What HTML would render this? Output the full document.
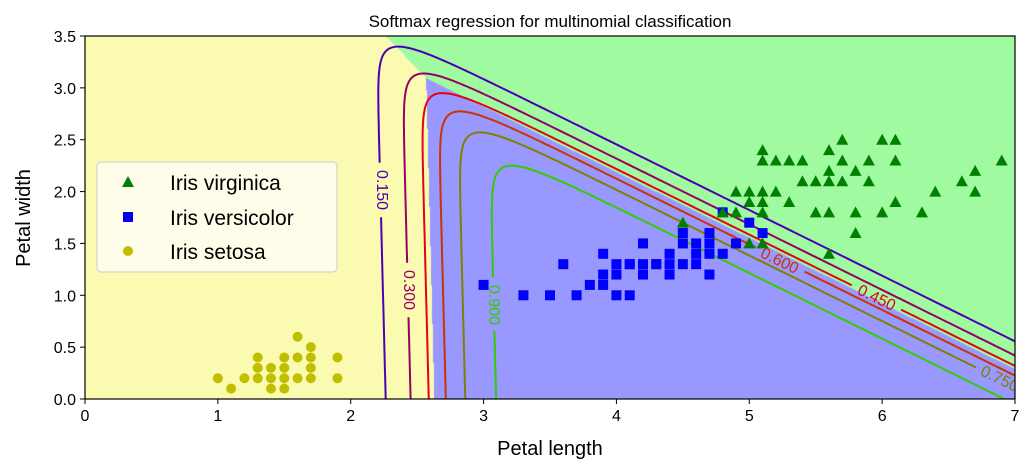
<!DOCTYPE html>
<html><head><meta charset="utf-8">
<style>
body{margin:0;background:#fff;width:1033px;height:471px;overflow:hidden;font-family:"Liberation Sans","DejaVu Sans",sans-serif;}
#wrap{position:relative;width:1033px;height:471px;}
canvas{position:absolute;left:85px;top:36px;}
svg{position:absolute;left:0;top:0;}
</style></head>
<body>
<div id="wrap">
<canvas id="bg" width="930" height="363"></canvas>
<svg id="svg" width="1033" height="471"></svg>
</div>
<script>
// ---- data ----
const setosaLength=[1.0,1.1,1.2,1.3,1.3,1.3,1.4,1.4,1.4,1.5,1.5,1.5,1.5,1.6,1.6,1.6,1.7,1.7,1.7,1.7,1.9,1.9];
const setosaWidth =[0.2,0.1,0.2,0.2,0.3,0.4,0.1,0.2,0.3,0.1,0.2,0.3,0.4,0.2,0.4,0.6,0.2,0.3,0.4,0.5,0.2,0.4];
const versiLength=[4.7,4.5,4.9,4.0,4.6,4.5,4.7,3.3,4.6,3.9,3.5,4.2,4.0,3.6,4.4,4.1,3.9,4.8,4.7,4.3,4.8,5.0,3.8,3.7,3.9,5.1,4.5,4.7,4.4,4.1,4.4,4.6,4.0,4.2,4.2,4.3,3.0,4.1];
const versiWidth =[1.4,1.5,1.5,1.3,1.5,1.3,1.6,1.0,1.3,1.4,1.0,1.5,1.0,1.3,1.4,1.0,1.1,1.8,1.2,1.3,1.4,1.7,1.1,1.0,1.2,1.6,1.6,1.5,1.3,1.3,1.2,1.4,1.2,1.3,1.2,1.3,1.1,1.3];
const virgLength=[6.0,5.1,5.9,5.6,5.8,6.6,4.5,6.3,5.8,6.1,5.1,5.3,5.5,5.0,5.1,5.3,5.5,6.7,6.9,5.0,5.7,4.9,6.7,4.9,5.7,6.0,4.8,5.6,5.8,6.1,6.4,5.6,5.1,5.6,6.1,5.6,5.4,5.1,5.9,5.7,5.2,5.0,5.2,5.4,5.1];
const virgWidth =[2.5,1.9,2.1,1.8,2.2,2.1,1.7,1.8,1.8,2.5,2.0,1.9,2.1,2.0,2.4,2.3,1.8,2.2,2.3,1.5,2.3,2.0,2.0,1.8,2.1,1.8,1.8,2.1,1.6,1.9,2.0,2.2,1.5,1.4,2.3,2.4,2.1,2.3,2.3,2.5,2.3,1.9,2.0,2.3,1.8];
const contourLevels=[0.15,0.3,0.45,0.6,0.75,0.9];
const xTicks=[0,1,2,3,4,5,6,7];
const yTicks=[0.0,0.5,1.0,1.5,2.0,2.5,3.0,3.5];

// ---- axes ----
const L=85,R=1015,T=36,B=399;
const sx=v=>L+(v-0)/7*(R-L);
const sy=v=>B-(v-0)/3.5*(B-T);
const ix=p=>(p-L)/(R-L)*7;
const iy=p=>(B-p)/(B-T)*3.5;
function probs(x,y){
  const z0=0,z1=4.73*(x-2.63+0.02*y),z2=z1+4.1*(x+1.58*y-7.455);
  const m=Math.max(z0,z1,z2);const e0=Math.exp(z0-m),e1=Math.exp(z1-m),e2=Math.exp(z2-m);
  const s=e0+e1+e2;return [e0/s,e1/s,e2/s];
}
// background
const ctx=document.getElementById('bg').getContext('2d');
const img=ctx.createImageData(930,363);
const cols=[[250,250,176],[152,152,255],[160,250,160]];
for(let j=0;j<363;j++)for(let i=0;i<930;i++){
  const p=probs(ix(L+i+0.5),iy(T+j+0.5));
  let k=0;if(p[1]>p[k])k=1;if(p[2]>p[k])k=2;
  const o=(j*930+i)*4;img.data[o]=cols[k][0];img.data[o+1]=cols[k][1];img.data[o+2]=cols[k][2];img.data[o+3]=255;
}
ctx.putImageData(img,0,0);

const svg=document.getElementById('svg');const NS='http://www.w3.org/2000/svg';
function mk(tag,attrs,parent){const e=document.createElementNS(NS,tag);for(const k in attrs)e.setAttribute(k,attrs[k]);(parent||svg).appendChild(e);return e;}
function col(t){let r,g,b;if(t<0.5){r=2*t;g=0;b=1-2*t;}else{r=2-2*t;g=2*t-1;b=0;}return `rgb(${Math.round(r*255)},${Math.round(g*255)},${Math.round(b*255)})`;}
const labelPos=[[383,190,90],[410,290,90],[877,297,25.9],[780,260,25.9],[1000,378,25.9],[495,305,90]];
const defs=mk('defs',{});const cp=mk('clipPath',{id:'clip'},defs);mk('rect',{x:L,y:T,width:R-L,height:B-T},cp);
const cg=mk('g',{'clip-path':'url(#clip)'});


const step=2;const nx=Math.ceil((R-L)/step)+1,ny=Math.ceil((B-T)/step)+1;
const F=[];for(let j=0;j<ny;j++){F.push([]);for(let i=0;i<nx;i++)F[j].push(probs(ix(L+i*step),iy(T+j*step))[1]);}
contourLevels.forEach((lv,li)=>{
  const lp=labelPos[li];let d='';
  const near=(x,y)=>{const a=lp[2]*Math.PI/180;const dx=x-lp[0],dy=y-lp[1];const u=dx*Math.cos(a)+dy*Math.sin(a),v=-dx*Math.sin(a)+dy*Math.cos(a);return Math.abs(u)<28&&Math.abs(v)<10;};
  for(let j=0;j<ny-1;j++){
    for(let i=0;i<nx-1;i++){
      const c=[[i,j,F[j][i]],[i+1,j,F[j][i+1]],[i+1,j+1,F[j+1][i+1]],[i,j+1,F[j+1][i]]];
      const pts=[];
      for(let k=0;k<4;k++){const a=c[k],b=c[(k+1)%4];if((a[2]-lv)*(b[2]-lv)<0){const t=(lv-a[2])/(b[2]-a[2]);pts.push([L+(a[0]+t*(b[0]-a[0]))*step,T+(a[1]+t*(b[1]-a[1]))*step]);}}
      for(let k=0;k+1<pts.length;k+=2){
        const mx=(pts[k][0]+pts[k+1][0])/2,my=(pts[k][1]+pts[k+1][1])/2;
        if(near(mx,my))continue;
        d+=`M${pts[k][0].toFixed(1)} ${pts[k][1].toFixed(1)}L${pts[k+1][0].toFixed(1)} ${pts[k+1][1].toFixed(1)}`;
      }
    }
  }
  const p=mk('path',{d:d,stroke:col(lv),'stroke-width':2,fill:'none','stroke-linecap':'round'},cg);
  
  
  const t=mk('text',{x:lp[0],y:lp[1]+6,'text-anchor':'middle','font-size':16,fill:col(lv),transform:`rotate(${lp[2]} ${lp[0]} ${lp[1]})`},cg);
  t.textContent=lv.toFixed(3);
  
  
});
// points
const pg=mk('g',{'clip-path':'url(#clip)'});
setosaLength.forEach((v,i)=>{const e=mk('circle',{cx:sx(v),cy:sy(setosaWidth[i]),r:5,fill:'#bfbf00'},pg);
  
  });
versiLength.forEach((v,i)=>{const x=sx(v),y=sy(versiWidth[i]);const e=mk('rect',{x:x-5,y:y-5,width:10,height:10,fill:'#0000ff'},pg);
  
  });
virgLength.forEach((v,i)=>{const x=sx(v),y=sy(virgWidth[i]);const e=mk('polygon',{points:`${x},${y-6} ${x+6},${y+5} ${x-6},${y+5}`,fill:'#008000'},pg);
  
  });
// frame
const fr=mk('rect',{x:L,y:T,width:R-L,height:B-T,fill:'none',stroke:'#000','stroke-width':1.2});


xTicks.forEach(v=>{mk('line',{x1:sx(v),x2:sx(v),y1:B,y2:B+5,stroke:'#000'});
  const t=mk('text',{x:sx(v),y:B+22,'text-anchor':'middle','font-size':16,fill:'#000'});t.textContent=v;
  
  });
yTicks.forEach(v=>{mk('line',{x1:L-5,x2:L,y1:sy(v),y2:sy(v),stroke:'#000'});
  const t=mk('text',{x:L-9,y:sy(v)+6,'text-anchor':'end','font-size':16,fill:'#000'});t.textContent=v.toFixed(1);
  
  });
</script>
<svg width="1033" height="471" style="position:absolute;left:0;top:0">
<text x="550" y="27" text-anchor="middle" font-size="17" font-family="Liberation Sans, sans-serif">Softmax regression for multinomial classification</text>
<text x="550" y="455" text-anchor="middle" font-size="20" font-family="Liberation Sans, sans-serif">Petal length</text>
<text x="30" y="218" text-anchor="middle" font-size="20" font-family="Liberation Sans, sans-serif" transform="rotate(-90 30 218)">Petal width</text>
<g>
<rect x="97" y="162" width="240" height="110" rx="4" fill="#fdfdf0" fill-opacity="0.9" stroke="#cccccc"/>
<polygon points="128,176 134,187 122,187" fill="#008000"/>
<text x="170" y="190" font-size="21" font-family="Liberation Sans, sans-serif">Iris virginica</text>
<rect x="123" y="212" width="10" height="10" fill="#0000ff"/>
<text x="170" y="225" font-size="21" font-family="Liberation Sans, sans-serif">Iris versicolor</text>
<circle cx="128" cy="251" r="5" fill="#bfbf00"/>
<text x="170" y="259" font-size="21" font-family="Liberation Sans, sans-serif">Iris setosa</text>
</g>
</svg>
</body></html>
